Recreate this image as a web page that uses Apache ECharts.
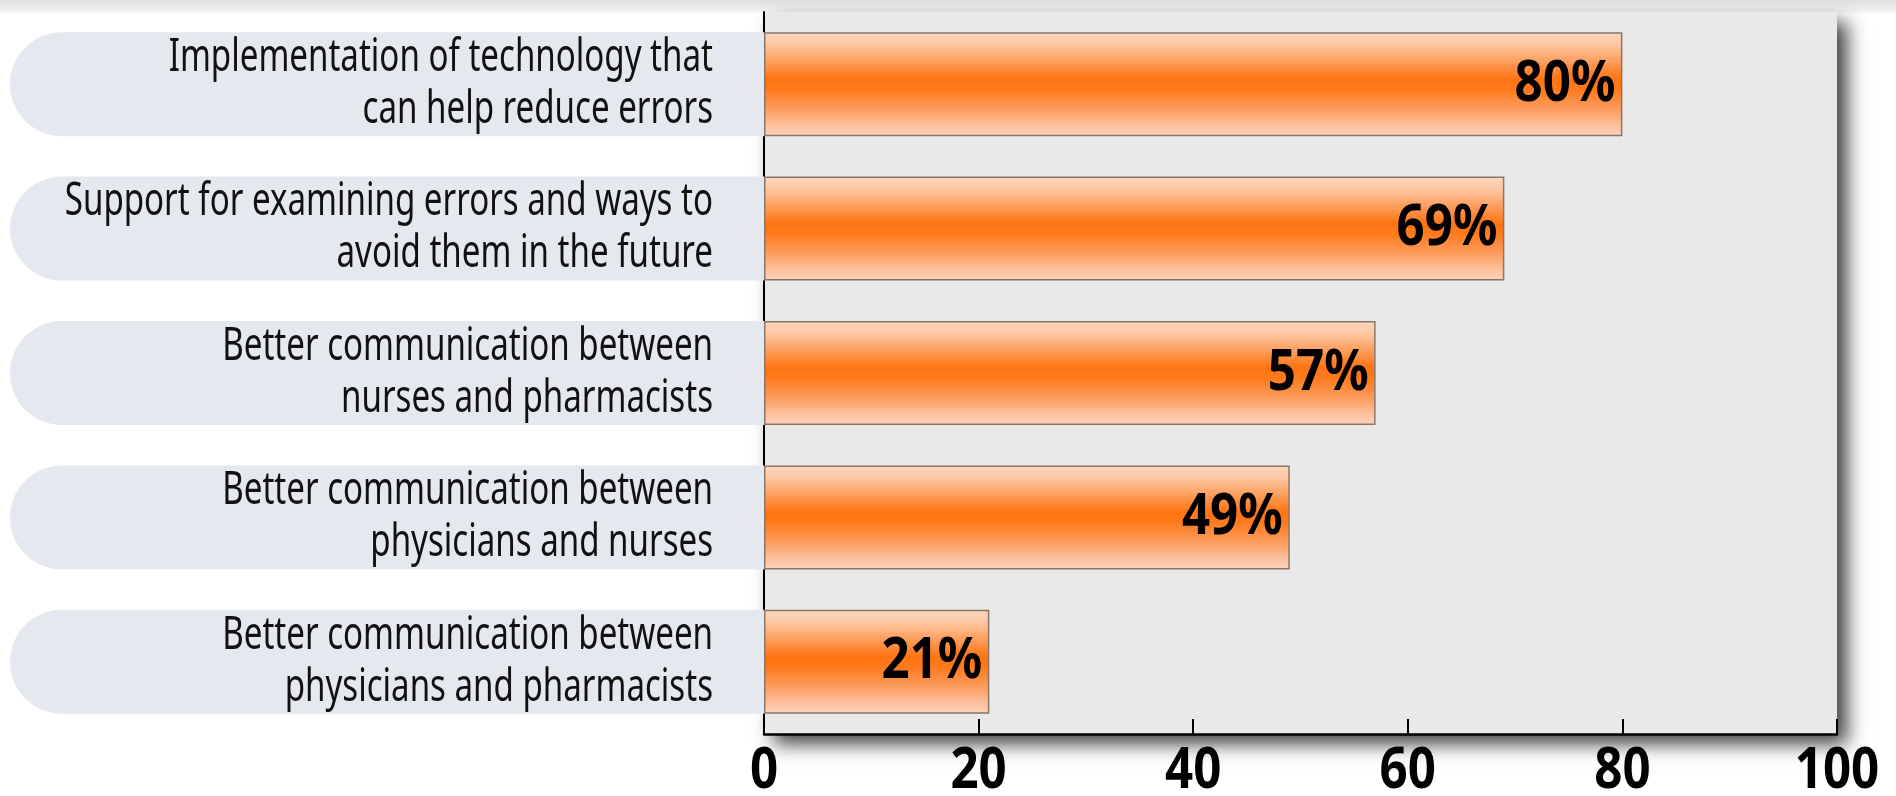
<!DOCTYPE html>
<html>
<head>
<meta charset="utf-8">
<script src="https://cdn.jsdelivr.net/npm/echarts@6/dist/echarts.min.js"></script>
<style>
  html, body { margin: 0; padding: 0; background: #ffffff; }
  #chart { width: 1896px; height: 796px; }
</style>
</head>
<body>
<div id="chart"></div>
<script>
// Survey answers, top to bottom
const categories = [
  'Implementation of technology that\ncan help reduce errors',
  'Support for examining errors and ways to\navoid them in the future',
  'Better communication between\nnurses and pharmacists',
  'Better communication between\nphysicians and nurses',
  'Better communication between\nphysicians and pharmacists'
];
// Share of respondents (%)
const shares = [80, 69, 57, 49, 21];
// Value axis ticks
const axisMin = 0;
const axisMax = 100;
const axisStep = 20;

const family = "'Noto Sans', 'Open Sans', 'DejaVu Sans', sans-serif";

// Condensed lettering: no condensed face is installed, so each glyph run is
// narrowed horizontally around its own anchor point (alignment is preserved).
const CONDENSE = { regular: 0.735, bold: 0.85 };
(function () {
  const proto = CanvasRenderingContext2D.prototype;
  const baseFillText = proto.fillText;
  proto.fillText = function (text, x, y, maxWidth) {
    const k = /bold|[6-9]00/.test(this.font) ? CONDENSE.bold : CONDENSE.regular;
    this.save();
    this.translate(x, y);
    this.scale(k, 1);
    if (maxWidth !== undefined) {
      baseFillText.call(this, text, 0, 0, maxWidth / k);
    } else {
      baseFillText.call(this, text, 0, 0);
    }
    this.restore();
  };
})();

const chart = echarts.init(document.getElementById('chart'), null, { renderer: 'canvas' });

const barFill = new echarts.graphic.LinearGradient(0, 0, 0, 1, [
  { offset: 0.00, color: '#fcd6be' },
  { offset: 0.12, color: '#fdc7a4' },
  { offset: 0.30, color: '#fd9a55' },
  { offset: 0.45, color: '#ff7412' },
  { offset: 0.55, color: '#ff7a1c' },
  { offset: 0.75, color: '#fc9e62' },
  { offset: 0.90, color: '#fcc2a0' },
  { offset: 1.00, color: '#fdd3b9' }
]);

chart.setOption({
  backgroundColor: '#ffffff',
  animation: false,
  graphic: [
    {
      // soft grey band along the top edge
      type: 'rect',
      left: 0, top: 0,
      shape: { width: 1896, height: 13 },
      style: {
        fill: new echarts.graphic.LinearGradient(0, 0, 0, 1, [
          { offset: 0, color: '#dedede' },
          { offset: 1, color: '#f6f6f6' }
        ])
      },
      z: -1
    }
  ],
  grid: {
    left: 764,
    right: 59,
    top: 12,
    bottom: 62,
    outerBoundsMode: 'none',
    containLabel: false,
    show: true,
    backgroundColor: '#e9e9e9',
    borderWidth: 0,
    shadowColor: 'rgba(0,0,0,0.75)',
    shadowBlur: 18,
    shadowOffsetX: 10,
    shadowOffsetY: 10
  },
  xAxis: {
    type: 'value',
    min: axisMin,
    max: axisMax,
    interval: axisStep,
    axisLine: { show: true, lineStyle: { color: '#000', width: 2.5 } },
    axisTick: { show: true, inside: true, length: 15, lineStyle: { color: '#000', width: 2 } },
    splitLine: { show: false },
    axisLabel: {
      color: '#000',
      fontFamily: family,
      fontWeight: 'bold',
      fontSize: 58,
      margin: 8
    }
  },
  yAxis: {
    type: 'category',
    inverse: true,
    data: categories,
    axisLine: { show: true, lineStyle: { color: '#000', width: 2 } },
    axisTick: { show: false },
    splitLine: { show: false },
    axisLabel: {
      color: '#111',
      fontFamily: family,
      fontSize: 45,
      lineHeight: 52,
      align: 'right',
      width: 703,
      padding: [0, 51, 0, 0],
      margin: 0,
      backgroundColor: '#e6e8f0',
      borderRadius: [52, 0, 0, 52]
    }
  },
  series: [
    {
      type: 'bar',
      data: shares,
      barCategoryGap: '28%',
      itemStyle: {
        color: barFill,
        borderColor: '#8a7668',
        borderWidth: 1.5
      },
      label: {
        show: true,
        position: 'insideRight',
        distance: 7,
        formatter: '{c}%',
        color: '#000',
        fontFamily: family,
        fontWeight: 'bold',
        fontSize: 58
      }
    }
  ]
});
</script>
</body>
</html>
